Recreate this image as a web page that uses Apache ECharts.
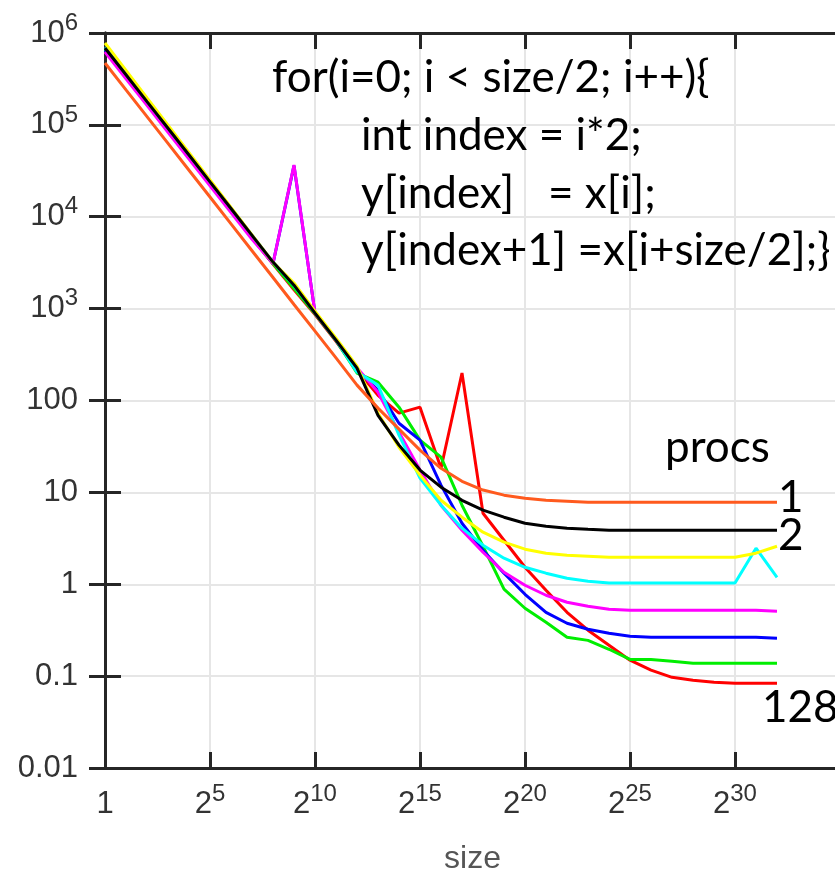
<!DOCTYPE html>
<html>
<head>
<meta charset="utf-8">
<script src="https://cdn.jsdelivr.net/npm/echarts@6/dist/echarts.min.js"></script>
<style>
  html, body { margin: 0; padding: 0; background: #fff; }
  #chart { width: 835px; height: 872px; }
</style>
</head>
<body>
<div id="chart"></div>
<script>
// x = log2(size)
const sizeExp = [0, 1, 2, 3, 4, 5, 6, 7, 8, 9, 10, 11, 12, 13, 14, 15, 16, 17, 18, 19, 20,
  21, 22, 23, 24, 25, 26, 27, 28, 29, 30, 31, 32]

const procs1 = [471000, 240000, 123000, 62800, 32100, 16400, 8360, 4270, 2180, 1110, 569, 291,
  147, 82.6, 48.8, 28.8, 18.3, 13.2, 10.6, 9.33, 8.65, 8.23, 8.02,
  7.82, 7.82, 7.82, 7.82, 7.82, 7.82, 7.82, 7.82, 7.82, 7.82]
const procs2 = [687000, 351000, 179000, 91800, 47000, 24000, 12300, 6280, 3210, 1800, 893, 454,
  225, 69, 32.7, 17.5, 11.4, 8.2, 6.4, 5.37, 4.62, 4.29, 4.08, 3.97,
  3.87, 3.87, 3.87, 3.87, 3.87, 3.87, 3.87, 3.87, 3.87]
const procs4 = [778000, 392000, 197000, 99100, 49900, 25100, 12600, 6350, 3200, 1900, 940, 478,
  237, 72.8, 31.0, 15.4, 8.2, 5.37, 3.69, 2.87, 2.41, 2.18, 2.07, 2.02,
  1.97, 1.97, 1.97, 1.97, 1.97, 1.97, 1.97, 2.18, 2.59]
const procs8 = [700000, 356000, 181000, 92500, 47300, 24200, 12400, 6300, 3200, 1780, 900, 455,
  204, 147, 42, 14.3, 7.26, 4.08, 2.66, 1.92, 1.53, 1.32, 1.16, 1.08,
  1.03, 1.03, 1.03, 1.03, 1.03, 1.03, 1.03, 2.47, 1.19]
const procs16 = [621000, 318000, 163000, 83000, 42500, 21700, 11100, 5680, 3100, 36600, 893, 460,
  228, 123, 45.2, 17.5, 7.25, 3.87, 2.23, 1.35, 0.975, 0.759, 0.637, 0.576, 0.535,
  0.521, 0.521, 0.521, 0.521, 0.521, 0.521, 0.521, 0.508]
const procs32 = [650000, 333000, 170000, 87000, 44500, 22800, 11700, 5950, 3100, 36000, 893, 455,
  214, 130, 56.6, 37.0, 12.0, 4.61, 2.34, 1.32, 0.778, 0.495, 0.376, 0.324, 0.293, 0.272,
  0.265, 0.265, 0.265, 0.265, 0.265, 0.265, 0.258]
const procs64 = [660000, 338000, 172000, 88000, 45000, 23000, 11800, 6000, 3100, 1650, 880, 450,
  199, 158, 84.6, 37.0, 24.2, 7.25, 2.59, 0.883, 0.548, 0.386, 0.265, 0.245, 0.196, 0.152,
  0.152, 0.145, 0.138, 0.138, 0.138, 0.138, 0.138]
const procs128 = [640000, 328000, 167000, 85500, 43800, 22400, 11500, 5900, 3050, 1600, 860, 440,
  214, 114, 72.8, 84.6, 18.3, 199, 5.93, 3.01, 1.53, 0.861, 0.495, 0.316, 0.217, 0.149,
  0.116, 0.097, 0.090, 0.0857, 0.0836, 0.0836, 0.0836]

const codeLines = [
  'for(i=0; i < size/2; i++){',
  'int index = i*2;',
  'y[index]   = x[i];',
  'y[index+1] =x[i+size/2];}',
]

const AXIS_FONT = "'Liberation Sans', Arial, sans-serif"
const NOTE_FONT = "Lato, 'Open Sans', sans-serif"
const AXIS_COLOR = '#262626'

// drawn bottom to top
const SERIES = [
  { name: '128', color: '#ff0000', values: procs128 },
  { name: '64', color: '#00ee00', values: procs64 },
  { name: '32', color: '#0000ff', values: procs32 },
  { name: '16', color: '#ff00ff', values: procs16 },
  { name: '8', color: '#00ffff', values: procs8 },
  { name: '4', color: '#ffff00', values: procs4 },
  { name: '2', color: '#000000', values: procs2 },
  { name: '1', color: '#ff5a1e', values: procs1 },
]

function xLabel(v) {
  if (v === 0) return '{b|1}'
  if (v >= 35) return ''
  return '{b|2}{s|' + v + '}'
}

function yLabel(v) {
  const k = Math.round(Math.log10(v))
  if (k >= 3) return '{b|10}{s|' + k + '}'
  if (k >= 0) return '{b|' + Math.pow(10, k) + '}'
  return '{b|' + Math.pow(10, k).toFixed(-k) + '}'
}

const richLabel = {
  b: { fontFamily: AXIS_FONT, fontSize: 31, color: '#333', lineHeight: 44 },
  s: { fontFamily: AXIS_FONT, fontSize: 24, color: '#333', lineHeight: 22, verticalAlign: 'top' },
}

const chart = echarts.init(document.getElementById('chart'))

const xCommon = {
  type: 'value',
  min: 0,
  max: 35,
  interval: 5,
  axisLine: { show: true, onZero: false, lineStyle: { color: AXIS_COLOR, width: 3 } },
  axisTick: { show: true, inside: true, length: 16, lineStyle: { color: AXIS_COLOR, width: 3 } },
}
const yCommon = {
  type: 'log',
  logBase: 10,
  min: 0.01,
  max: 1000000,
  axisLine: { show: true, lineStyle: { color: AXIS_COLOR, width: 3 } },
  axisTick: { show: true, inside: true, length: 16, lineStyle: { color: AXIS_COLOR, width: 3 } },
  minorTick: { show: false },
}

const noteStyle = text => ({ text, font: '44px ' + NOTE_FONT, fill: '#000' })

chart.setOption({
  animation: false,
  backgroundColor: '#fff',
  grid: { left: 105, top: 33, width: 735, height: 735, containLabel: false, outerBoundsMode: 'none' },
  xAxis: [
    Object.assign({}, xCommon, {
      position: 'bottom',
      name: 'size',
      nameLocation: 'middle',
      nameGap: 75,
      nameTextStyle: { fontFamily: AXIS_FONT, fontSize: 32, color: '#555' },
      axisLabel: { formatter: xLabel, rich: richLabel, margin: 14 },
      splitLine: { show: true, lineStyle: { color: '#e6e6e6', width: 2 } },
    }),
    Object.assign({}, xCommon, {
      position: 'top',
      axisLabel: { show: false },
      splitLine: { show: false },
    }),
  ],
  yAxis: [
    Object.assign({}, yCommon, {
      position: 'left',
      axisLabel: { formatter: yLabel, rich: richLabel, margin: 27 },
      splitLine: { show: true, lineStyle: { color: '#e6e6e6', width: 2 } },
    }),
    Object.assign({}, yCommon, {
      position: 'right',
      axisLabel: { show: false },
      splitLine: { show: false },
    }),
  ],
  series: SERIES.map(s => ({
    name: s.name,
    type: 'line',
    xAxisIndex: 0,
    yAxisIndex: 0,
    showSymbol: false,
    smooth: false,
    lineStyle: { color: s.color, width: 3 },
    itemStyle: { color: s.color },
    data: sizeExp.map((e, i) => [e, s.values[i]]),
  })),
  graphic: [
    { type: 'text', z: 100, left: 272, top: 56, style: noteStyle(codeLines[0]) },
    { type: 'text', z: 100, left: 361, top: 114, style: noteStyle(codeLines[1]) },
    { type: 'text', z: 100, left: 361, top: 172, style: noteStyle(codeLines[2]) },
    { type: 'text', z: 100, left: 361, top: 229, style: noteStyle(codeLines[3]) },
    { type: 'text', z: 100, left: 665, top: 426, style: noteStyle('procs') },
    { type: 'text', z: 100, left: 778, top: 476, style: noteStyle('1') },
    { type: 'text', z: 100, left: 778, top: 514, style: noteStyle('2') },
    { type: 'text', z: 100, left: 762, top: 686, style: noteStyle('128') },
  ],
})
</script>
</body>
</html>
